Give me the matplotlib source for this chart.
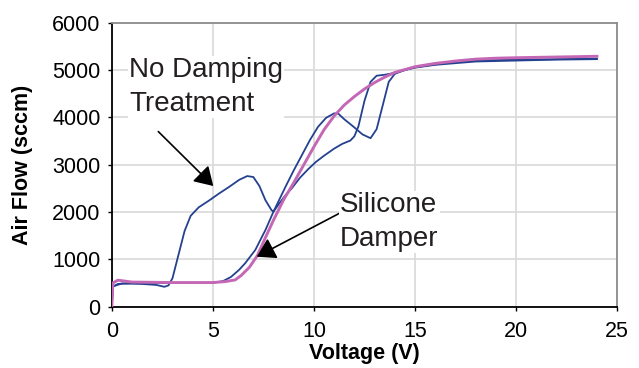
import matplotlib
matplotlib.use("Agg")
import matplotlib.pyplot as plt

plt.rcParams['font.family'] = ['Liberation Sans', 'DejaVu Sans']

# No damping treatment - sweep with the bump
bump_v = [0, 0.05, 0.5, 1.5, 2.2, 2.6, 2.8, 3.0, 3.3, 3.6, 3.9, 4.3, 4.8, 5.3, 5.8, 6.3,
          6.7, 7.0, 7.3, 7.6, 7.9, 8.0, 8.3, 8.6, 8.9, 9.3, 9.7, 10.1, 10.5, 11.0, 11.4,
          11.8, 12.0, 12.2, 12.5, 12.8, 13.1, 13.5, 14.0, 14.5, 15, 16, 18, 20, 22, 24]
bump_flow = [0, 430, 490, 480, 460, 420, 450, 600, 1100, 1600, 1920, 2100, 2240, 2390,
             2530, 2680, 2760, 2740, 2550, 2250, 2040, 2010, 2190, 2360, 2500, 2720, 2900,
             3060, 3190, 3340, 3440, 3510, 3600, 3810, 4350, 4750, 4880, 4900, 4940, 5000,
             5050, 5110, 5180, 5200, 5220, 5230]

# No damping treatment - steep sweep
steep_v = [0, 0.05, 0.3, 1, 3, 5, 5.5, 5.9, 6.3, 6.6, 7.1, 7.6, 8.0, 8.6, 9.0, 9.4, 9.8,
           10.2, 10.6, 11.0, 11.2, 11.5, 11.95, 12.4, 12.8, 13.1, 13.4, 13.7, 14.0, 14.5,
           15, 16, 17, 18, 20, 22, 24]
steep_flow = [0, 420, 480, 500, 500, 505, 540, 630, 780, 920, 1200, 1620, 2010, 2540, 2880,
              3200, 3520, 3800, 3990, 4085, 4080, 3960, 3805, 3640, 3560, 3750, 4250, 4750,
              4920, 5000, 5060, 5120, 5170, 5200, 5220, 5230, 5240]

# Silicone damper
sil_v = [0, 0.05, 0.3, 1, 3, 5, 5.6, 6.1, 6.4, 6.8, 7.2, 7.6, 8.0, 8.5, 9.0, 9.5, 10.0,
         10.5, 11.0, 11.5, 12.0, 12.5, 13.0, 13.5, 14.0, 14.5, 15, 16, 17, 18, 19, 20, 22, 24]
sil_flow = [0, 500, 560, 520, 510, 510, 530, 565, 660, 830, 1080, 1460, 1830, 2260, 2620,
            3000, 3380, 3740, 4030, 4260, 4440, 4600, 4735, 4850, 4950, 5010, 5070, 5140,
            5190, 5230, 5250, 5260, 5275, 5290]

blue = '#24418f'
pink = '#c468b6'

fig = plt.figure(figsize=(6.39, 3.68), dpi=100)
ax = fig.add_axes([0.175, 0.1666, 0.7908, 0.7717])

ax.plot(bump_v, bump_flow, color=blue, lw=1.3, zorder=3)
ax.plot(steep_v, steep_flow, color=blue, lw=1.3, zorder=3)
ax.plot(sil_v, sil_flow, color=pink, lw=2.1, zorder=4)

ax.set_xlim(0, 25)
ax.set_ylim(0, 6000)
ax.set_xticks(range(0, 26, 5))
ax.set_yticks(range(0, 6001, 1000))
ax.grid(True, color='#d9d9d9', lw=1.2)
ax.set_axisbelow(True)
ax.tick_params(direction='out', length=3, width=1, labelsize=15.5, color='black')
ax.tick_params(axis='x', pad=7)
ax.tick_params(axis='y', pad=5)

for s in ['left', 'bottom']:
    ax.spines[s].set_color('black')
    ax.spines[s].set_linewidth(1.3)
for s in ['top', 'right']:
    ax.spines[s].set_color('#8c8c8c')
    ax.spines[s].set_linewidth(1.3)

ax.set_xlabel('Voltage (V)', fontsize=15.5, fontweight='bold', labelpad=1)
ax.set_ylabel('Air Flow (sccm)', fontsize=15.5, fontweight='bold', labelpad=14)

arrow = dict(arrowstyle='-|>,head_length=0.7,head_width=0.43', mutation_scale=16,
             color='black', lw=1.2, shrinkA=0, shrinkB=0)
ax.annotate('', xy=(5.02, 2550), xytext=(2.30, 3700), arrowprops=arrow, zorder=5)
ax.annotate('', xy=(7.17, 1056), xytext=(11.29, 1980), arrowprops=arrow, zorder=5)

ax.text(0.85, 5270, 'No Damping\nTreatment', fontsize=20, color='#231f20',
        ha='left', va='top', linespacing=1.38,
        bbox=dict(facecolor='white', edgecolor='none', pad=1), zorder=5)
ax.text(11.3, 2420, 'Silicone\nDamper', fontsize=20, color='#231f20',
        ha='left', va='top', linespacing=1.38,
        bbox=dict(facecolor='white', edgecolor='none', pad=1), zorder=5)

fig.savefig('out.png', dpi=100)
